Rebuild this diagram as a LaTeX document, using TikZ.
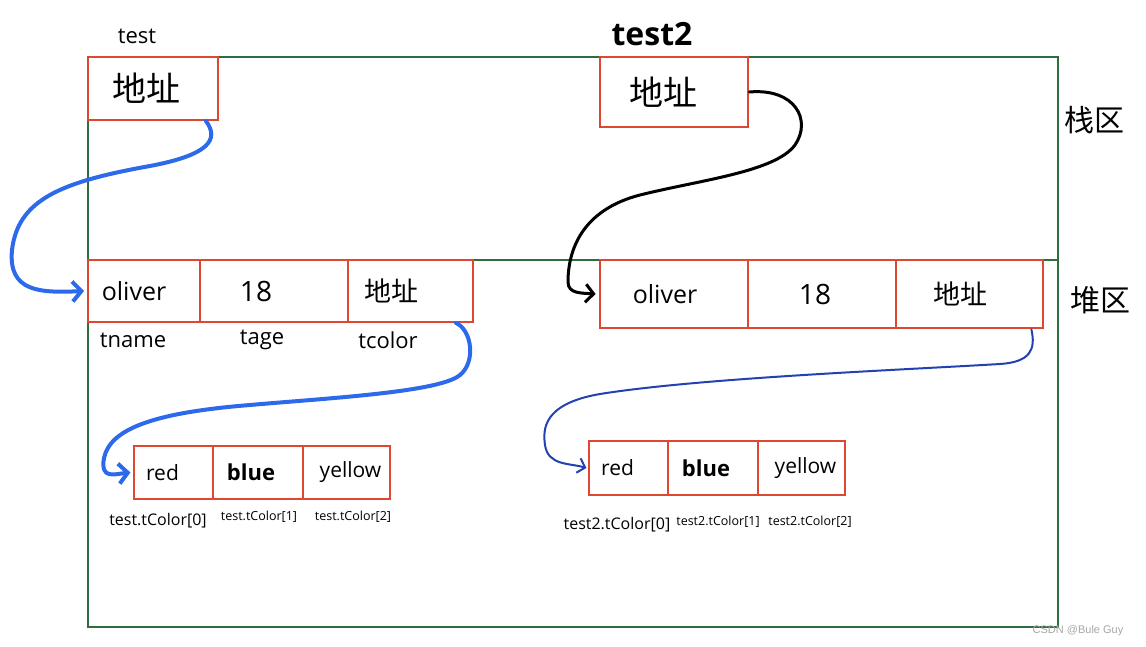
\documentclass[tikz,border=0pt]{standalone}
\usepackage{fontspec}
\setmainfont{Open Sans}
\newfontfamily\cjk{Noto Sans CJK SC}
\newfontfamily\wmfont{Liberation Sans}
\usetikzlibrary{arrows.meta}
\definecolor{gframe}{RGB}{46,110,62}
\definecolor{rbox}{RGB}{222,72,50}
\definecolor{barrow}{RGB}{45,105,235}
\definecolor{darrow}{RGB}{35,65,175}
\begin{document}
\begin{tikzpicture}[x=1pt,y=-1pt,
  region/.style={draw=gframe,line width=2.8pt,rectangle,inner sep=0pt},
  cell/.style={draw=rbox,rectangle,inner sep=0pt,line width=1.8pt,font=\fontsize{25}{27}\selectfont},
  thickcell/.style={cell,line width=2.8pt},
  thincell/.style={cell,line width=1.1pt,font=\fontsize{21}{24}\selectfont},
  addr/.style={font=\cjk\fontsize{34}{36}\selectfont},
  smalladdr/.style={font=\cjk\fontsize{27}{29}\selectfont},
  fieldlbl/.style={font=\fontsize{22}{24}\selectfont},
  idxlbl/.style={font=\fontsize{16}{18}\selectfont},
  idxsmall/.style={font=\fontsize{12.5}{14}\selectfont},
  blueptr/.style={draw=barrow,line width=4pt,line cap=round,-{Straight Barb[length=9pt,width=20pt,line width=4pt]}},
  blackptr/.style={draw=black,line width=3pt,line cap=round,-{Straight Barb[length=8pt,width=18pt,line width=3pt]}},
  darkptr/.style={draw=darrow,line width=2pt,line cap=round,-{Straight Barb[length=7pt,width=15pt,line width=2pt]}}
]
\useasboundingbox (0,0) rectangle (1146,647);
% regions
\node[region,minimum width=970,minimum height=203] (stack) at (573,158.5) {};
\node[region,minimum width=970,minimum height=367] (heap) at (573,443.5) {};
\node[font=\cjk\fontsize{30}{32}\selectfont] (stacklbl) at (1094,120) {栈区};
\node[font=\cjk\fontsize{30}{32}\selectfont] (heaplbl) at (1100,300) {堆区};
% stack variables
\node[font=\fontsize{22}{24}\selectfont] (testlbl) at (137,36) {test};
\node[font=\bfseries\fontsize{32}{34}\selectfont] (test2lbl) at (652,34) {test2};
\node[cell,minimum width=130,minimum height=63,addr] (ta) at (153,88.5) {\hspace{-14pt}地址};
\node[thickcell,minimum width=148,minimum height=70,addr] (tb) at (674,92) {\hspace{-22pt}地址};
% left object
\node[cell,minimum width=112,minimum height=62] (o1) at (144,291) {\hspace{-20pt}oliver};
\node[cell,minimum width=148,minimum height=62,font=\fontsize{28}{30}\selectfont] (a1) at (274,291) {\hspace{-36pt}18};
\node[cell,minimum width=125,minimum height=62,smalladdr] (c1) at (410.5,291) {\hspace{-38pt}地址};
\node[fieldlbl] (f1) at (133,340) {tname};
\node[fieldlbl] (f2) at (262,340) {tage};
\node[fieldlbl] (f3) at (388,340) {tcolor};
% right object
\node[thickcell,minimum width=148,minimum height=68] (o2) at (674,294) {\hspace{-18pt}oliver};
\node[thickcell,minimum width=148,minimum height=68,font=\fontsize{28}{30}\selectfont] (a2) at (822,294) {\hspace{-14pt}18};
\node[thickcell,minimum width=147,minimum height=68,smalladdr] (c2) at (969.5,294) {\hspace{-18pt}地址};
% left array
\node[thincell,minimum width=79,minimum height=53] (r1) at (173.5,472.5) {\hspace{-22pt}red};
\node[thincell,minimum width=90,minimum height=53,font=\bfseries\fontsize{22}{24}\selectfont] (b1) at (258,472.5) {\hspace{-14pt}blue};
\node[thincell,minimum width=87,minimum height=53] (y1) at (346.5,472.5) {\hspace{8pt}yellow};
\node[idxlbl] (i10) at (158,521) {test.tColor[0]};
\node[idxsmall] (i11) at (259,517) {test.tColor[1]};
\node[idxsmall] (i12) at (353,517) {test.tColor[2]};
% right array
\node[thincell,minimum width=79,minimum height=54] (r2) at (628.5,468) {\hspace{-22pt}red};
\node[thincell,minimum width=90,minimum height=54,font=\bfseries\fontsize{22}{24}\selectfont] (b2) at (713,468) {\hspace{-14pt}blue};
\node[thincell,minimum width=87,minimum height=54] (y2) at (801.5,468) {\hspace{8pt}yellow};
\node[idxlbl] (i20) at (617,525) {test2.tColor[0]};
\node[idxsmall] (i21) at (718,522) {test2.tColor[1]};
\node[idxsmall] (i22) at (810,522) {test2.tColor[2]};
% watermark
\node[font=\wmfont\fontsize{11}{13}\selectfont,text=gray!70] (wm) at (1078,631) {CSDN @Bule Guy};
% pointers
\draw[blueptr] ([xshift=-13pt]ta.south east) .. controls (220,140) and (208,155) .. (150,166)
  .. controls (60,182) and (18,200) .. (12,250)
  .. controls (8,292) and (40,293) .. ([xshift=-3pt]o1.west);
\draw[blackptr] (tb.east) .. controls (795,88) and (812,120) .. (795,145)
  .. controls (775,172) and (700,180) .. (640,195)
  .. controls (582,210) and (568,250) .. (568,282)
  .. controls (568,294) and (582,293) .. ([xshift=-3pt]o2.west);
\draw[blueptr] ([xshift=-18pt]c1.south east) .. controls (472,330) and (476,362) .. (460,375)
  .. controls (440,392) and (330,398) .. (250,405)
  .. controls (150,413) and (110,430) .. (104,458)
  .. controls (100,480) and (115,474) .. ([xshift=-3pt]r1.west);
\draw[darkptr] ([xshift=-13pt]c2.south east) .. controls (1036,350) and (1030,362) .. (1000,364)
  .. controls (900,370) and (700,378) .. (600,394)
  .. controls (542,404) and (543,430) .. (545,445)
  .. controls (548,466) and (570,463) .. ([xshift=-2pt]r2.west);
\end{tikzpicture}
\end{document}
